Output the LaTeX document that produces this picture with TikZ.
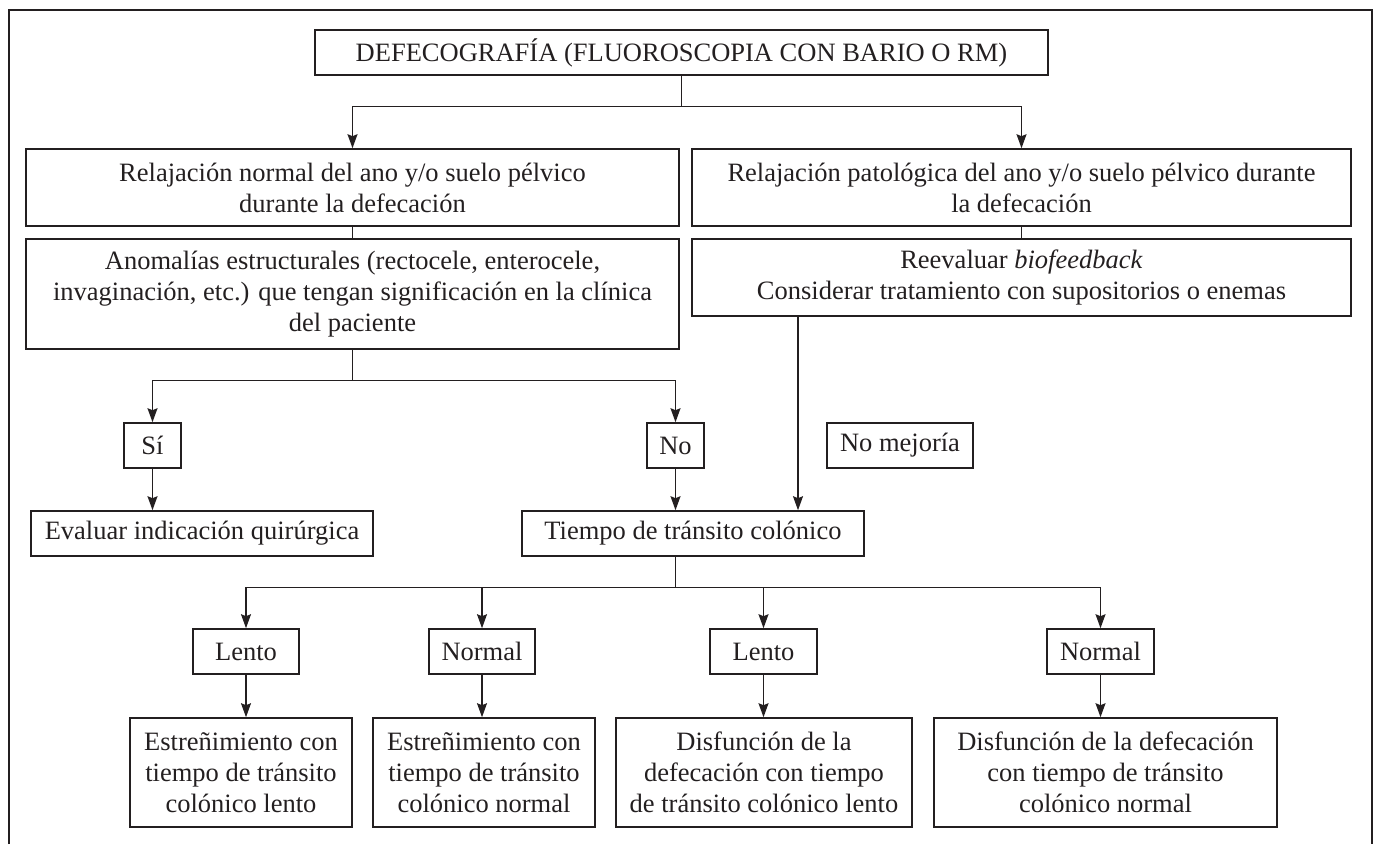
\documentclass[tikz,border=0pt]{standalone}
\usepackage{fontspec}
\setmainfont{Liberation Serif}
\usetikzlibrary{arrows.meta,positioning}
\definecolor{ink}{HTML}{231F20}

\begin{document}
\begin{tikzpicture}[x=1pt, y=-1pt,
  box/.style={rectangle, draw=ink, line width=1.6pt, text=ink, minimum width=#1, minimum height=45pt, inner sep=2pt, align=center, font=\fontsize{26.5}{31}\selectfont},
  tall/.style={minimum height=#1},
  link/.style={-{Stealth[length=14pt,width=10pt,inset=2pt]}, draw=ink, line width=1.3pt},
  plain/.style={draw=ink, line width=1.3pt}
]
  \useasboundingbox (0,0) rectangle (1375,844);
  \draw[ink, line width=1.6pt] (9,844) -- (9,10) -- (1372,10) -- (1372,844);

  % first level
  \node[box=733pt] (top) at (681.5,52.5) {DEFECOGRAFÍA (FLUOROSCOPIA CON BARIO O RM)};
  \node[box=653pt, tall=77pt] (relnorm) at (352.5,187.5) {Relajación normal del ano y/o suelo pélvico\\durante la defecación};
  \node[box=659pt, tall=77pt] (relpat) at (1021.5,187.5) {Relajación patológica del ano y/o suelo pélvico durante\\la defecación};
  \node[box=653pt, tall=110pt] (anom) at (352.5,294) {Anomalías estructurales (rectocele, enterocele,\\invaginación, etc.) que tengan significación en la clínica\\del paciente};
  \node[box=659pt, tall=77pt] (reeval) at (1021.5,277.5) {Reevaluar \textit{biofeedback}\\Considerar tratamiento con supositorios o enemas};

  % answers
  \node[box=57pt] (si) at (152.5,445.5) {Sí};
  \node[box=57pt] (no) at (675.5,445.5) {No};
  \node[box=146pt] (nomej) at (900,445.5) {No mejoría};
  \node[box=342pt] (eval) at (202,533.5) {Evaluar indicación quirúrgica};
  \node[box=342pt] (tiempo) at (693,533.5) {Tiempo de tránsito colónico};

  % transit time
  \node[box=106pt] (lento1) at (246,651.5) {Lento};
  \node[box=106pt] (normal1) at (482,651.5) {Normal};
  \node[box=107pt] (lento2) at (763.5,651.5) {Lento};
  \node[box=107pt] (normal2) at (1100.5,651.5) {Normal};
  \node[box=222pt, tall=109pt] (estlento) at (241,772.5) {Estreñimiento con\\tiempo de tránsito\\colónico lento};
  \node[box=222pt, tall=109pt] (estnormal) at (484,772.5) {Estreñimiento con\\tiempo de tránsito\\colónico normal};
  \node[box=296pt, tall=109pt] (dislento) at (764,772.5) {Disfunción de la\\defecación con tiempo\\de tránsito colónico lento};
  \node[box=343pt, tall=109pt] (disnormal) at (1105.5,772.5) {Disfunción de la defecación\\con tiempo de tránsito\\colónico normal};

  % connectors
  \draw[link] (top.south) -- ++(0,31) -| (relnorm.north);
  \draw[link] (top.south) -- ++(0,31) -| (relpat.north);
  \draw[plain] (relnorm) -- (anom);
  \draw[plain] (relpat) -- (reeval);
  \draw[link] (anom.south) -- ++(0,31) -| (si.north);
  \draw[link] (anom.south) -- ++(0,31) -| (no.north);
  \draw[link] (si.south) -- (si.south |- eval.north);
  \draw[link] (no.south) -- (no.south |- tiempo.north);
  \draw[link] ([xshift=105pt]tiempo.north |- reeval.south) -- ([xshift=105pt]tiempo.north);
  \foreach \n in {lento1,normal1,lento2,normal2}
    \draw[link] (no.south |- tiempo.south) -- ++(0,31) -| (\n.north);
  \foreach \a/\b in {lento1/estlento,normal1/estnormal,lento2/dislento,normal2/disnormal}
    \draw[link] (\a.south) -- (\a.south |- \b.north);
\end{tikzpicture}
\end{document}
